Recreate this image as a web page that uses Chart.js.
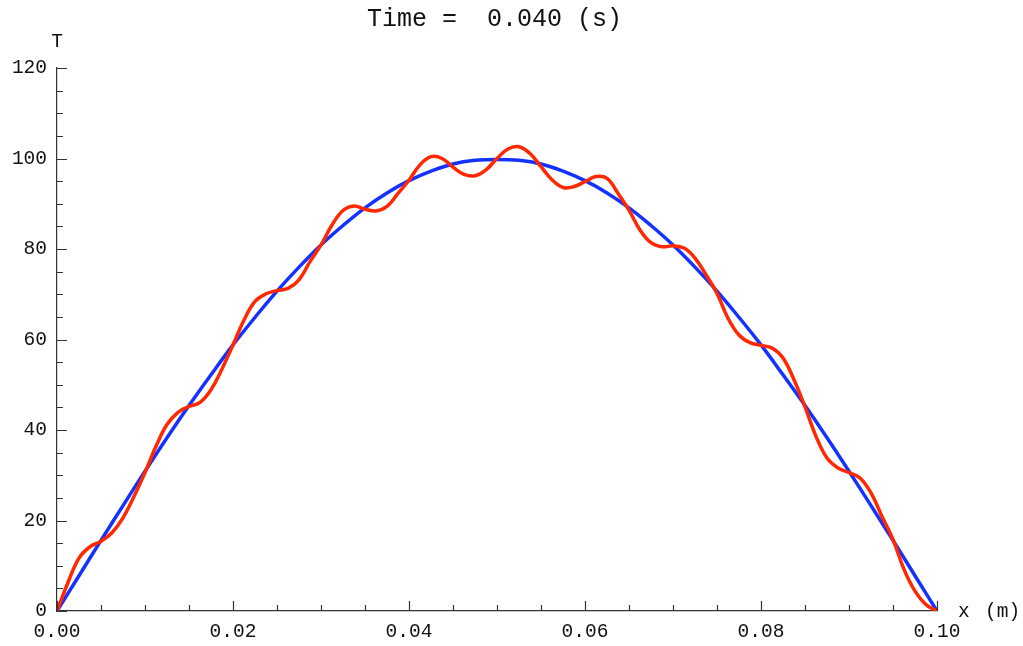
<!DOCTYPE html>
<html>
<head>
<meta charset="utf-8">
<script src="https://cdn.jsdelivr.net/npm/chart.js@4.4.0/dist/chart.umd.min.js"></script>
<style>
html,body{margin:0;padding:0;background:#fff;}
#wrap{width:1023px;height:646px;position:relative;}
</style>
</head>
<body>
<div id="wrap"><canvas id="c" width="1023" height="646"></canvas></div>
<script>
// ---- data ----
const titleText = "Time =  0.040 (s)";
const yAxisLabel = "T";
const xAxisLabel = "x (m)";

const xBlue = [0,0.0025,0.005,0.0075,0.01,0.0125,0.015,0.0175,0.02,0.0225,0.025,0.0275,0.03,0.0325,0.035,0.0375,0.04,0.0425,0.045,0.0475,0.05,0.0525,0.055,0.0575,0.06,0.0625,0.065,0.0675,0.07,0.0725,0.075,0.0775,0.08,0.0825,0.085,0.0875,0.09,0.0925,0.095,0.0975,0.1];
const tBlue = [0,7.8,15.6,23.3,30.9,38.3,45.4,52.2,58.8,64.9,70.7,76.0,80.9,85.2,89.1,92.4,95.1,97.2,98.8,99.6,99.8,99.6,98.8,97.2,95.1,92.4,89.1,85.2,80.9,76.0,70.7,64.9,58.8,52.2,45.4,38.3,30.9,23.3,15.6,7.8,0];

const xRed = [0,0.00125,0.0025,0.00375,0.005,0.00625,0.0075,0.00875,0.01,0.01125,0.0125,0.01375,0.015,0.01625,0.0175,0.01875,
  0.02,0.02125,0.0225,0.02375,0.025,0.02625,0.0275,0.02875,0.03,0.03125,0.0325,0.03375,0.035,0.03625,0.0375,0.03875,
  0.04,0.04125,0.0425,0.04375,0.045,0.04625,0.0475,0.04875,0.05,0.05125,0.0525,0.05375,0.055,0.05625,0.0575,0.05875,
  0.06,0.06125,0.0625,0.06375,0.065,0.06625,0.0675,0.06875,0.07,0.07125,0.0725,0.07375,0.075,0.07625,0.0775,0.07875,
  0.08,0.08125,0.0825,0.08375,0.085,0.08625,0.0875,0.08875,0.09,0.09125,0.0925,0.09375,0.095,0.09625,0.0975,0.09875,0.1];
const tRed = [0,6.3,11.7,14.2,15.4,17.3,20.6,25.3,30.6,36.4,41.2,43.9,45.2,46.1,48.9,53.5,
  58.8,64.3,68.4,70.1,70.8,71.3,73.2,77.2,80.9,85.3,88.5,89.5,88.8,88.4,89.4,92.3,
  95.2,98.6,100.4,100.0,98.1,96.5,96.2,97.5,100.0,102.1,102.6,101.1,98.2,95.3,93.6,93.8,
  94.9,96.0,95.6,92.3,88.6,84.2,81.4,80.5,80.7,80.2,78.0,74.3,70.2,64.7,61.0,59.3,
  58.7,58.1,55.9,51.1,45.1,38.6,33.8,31.6,30.6,29.4,26.1,20.9,15.8,9.2,4.4,1.4,0];

const xTicksMajor = [0,0.02,0.04,0.06,0.08,0.1];
const yTicksMajor = [0,20,40,60,80,100,120];
// ----------------------------------------------

const FONT = "'Liberation Mono', 'DejaVu Sans Mono', monospace";
const AXIS_COLOR = '#333';

const toPts = (xs, ys) => xs.map((x, i) => ({x: x, y: ys[i]}));

const decor = {
  id: 'decor',
  afterDraw(chart) {
    const ctx = chart.ctx;
    const xs = chart.scales.x, ys = chart.scales.y;
    const x0 = xs.getPixelForValue(0), y0 = ys.getPixelForValue(0);
    ctx.save();
    ctx.strokeStyle = AXIS_COLOR;
    ctx.lineWidth = 1.2;
    ctx.beginPath();
    // x ticks (every 0.005, major every 0.02)
    for (let i = 0; i <= 20; i++) {
      const v = i * 0.005;
      const px = Math.round(xs.getPixelForValue(v)) + 0.5;
      const major = (i % 4 === 0);
      const len = major ? 10 : 6;
      ctx.moveTo(px, y0);
      ctx.lineTo(px, y0 - len);
    }
    // y ticks (every 5, major every 20)
    for (let j = 0; j <= 24; j++) {
      const v = j * 5;
      const py = Math.round(ys.getPixelForValue(v)) + 0.5;
      const major = (j % 4 === 0);
      const len = major ? 10 : 6;
      ctx.moveTo(x0, py);
      ctx.lineTo(x0 + len, py);
    }
    ctx.stroke();

    ctx.fillStyle = '#111';
    ctx.font = "25px " + FONT;
    ctx.textAlign = 'center';
    ctx.textBaseline = 'alphabetic';
    ctx.fillText(titleText, 494.5, 26);

    ctx.font = "19.5px " + FONT;
    ctx.fillText(yAxisLabel, x0, 47);
    ctx.textAlign = 'left';
    const parts = xAxisLabel.split(' ');
    ctx.fillText(parts[0], chart.chartArea.right + 21, 617);
    ctx.fillText(parts[1], chart.chartArea.right + 48, 617);
    ctx.restore();
  }
};

new Chart(document.getElementById('c'), {
  type: 'line',
  data: {
    datasets: [
      {
        label: 'numeric',
        data: toPts(xRed, tRed),
        borderColor: 'rgb(255,40,0)',
        borderWidth: 3.5,
        pointRadius: 0,
        tension: 0.4,
        fill: false
      },
      {
        label: 'exact',
        data: toPts(xBlue, tBlue),
        borderColor: 'rgb(20,50,255)',
        borderWidth: 3.5,
        pointRadius: 0,
        tension: 0.4,
        fill: false
      }
    ]
  },
  options: {
    responsive: false,
    animation: false,
    devicePixelRatio: 1,
    layout: { padding: { left: 0, top: 68, right: 86, bottom: 0 } },
    plugins: { legend: { display: false }, tooltip: { enabled: false }, title: { display: false } },
    scales: {
      x: {
        type: 'linear',
        min: 0, max: 0.1,
        afterBuildTicks(scale) { scale.ticks = xTicksMajor.map(v => ({value: v})); },
        afterFit(scale) { scale.height = 35; },
        grid: { display: false, drawTicks: false },
        border: { display: true, color: AXIS_COLOR, width: 1.2 },
        ticks: {
          padding: 9,
          maxRotation: 0,
          autoSkip: false,
          color: '#111',
          font: { family: FONT, size: 19.5 },
          callback: v => Number(v).toFixed(2)
        }
      },
      y: {
        type: 'linear',
        min: 0, max: 120,
        afterBuildTicks(scale) { scale.ticks = yTicksMajor.map(v => ({value: v})); },
        afterFit(scale) { scale.width = 57; },
        grid: { display: false, drawTicks: false },
        border: { display: true, color: AXIS_COLOR, width: 1.2 },
        ticks: {
          padding: 10,
          autoSkip: false,
          color: '#111',
          font: { family: FONT, size: 19.5 },
          callback: v => String(v)
        }
      }
    }
  },
  plugins: [decor]
});
</script>
</body>
</html>
